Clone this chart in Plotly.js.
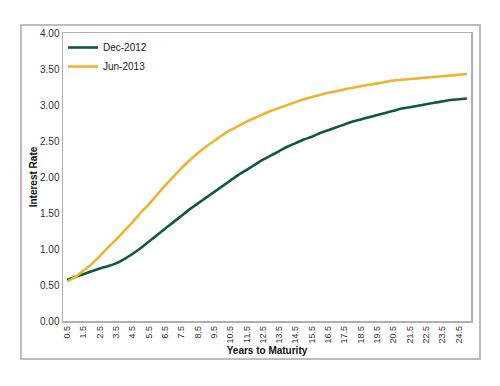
<!DOCTYPE html>
<html>
<head>
<meta charset="utf-8">
<script src="https://cdn.plot.ly/plotly-3.0.1.min.js"></script>
<style>
html,body{margin:0;padding:0;background:#fff;}
#chart{width:500px;height:386px;}
</style>
</head>
<body>
<div id="chart"></div>
<script>
var years = [0.5,1.0,1.5,2.0,2.5,3.0,3.5,4.0,4.5,5.0,5.5,6.0,6.5,7.0,7.5,8.0,8.5,9.0,9.5,10.0,
  10.5,11.0,11.5,12.0,12.5,13.0,13.5,14.0,14.5,15.0,15.5,16.0,16.5,17.0,17.5,18.0,18.5,19.0,19.5,20.0,
  20.5,21.0,21.5,22.0,22.5,23.0,23.5,24.0,24.5,25.0];
var dec2012 = [0.57,0.61,0.65,0.69,0.73,0.76,0.80,0.86,0.93,1.01,1.10,1.19,1.28,1.37,1.46,1.55,1.63,1.71,1.79,1.87,
  1.95,2.03,2.10,2.17,2.24,2.30,2.36,2.42,2.47,2.52,2.56,2.61,2.65,2.69,2.73,2.77,2.80,2.83,2.86,2.89,
  2.92,2.95,2.97,2.99,3.01,3.03,3.05,3.07,3.08,3.09];
var jun2013 = [0.55,0.61,0.70,0.79,0.90,1.02,1.13,1.25,1.37,1.50,1.62,1.75,1.88,2.00,2.12,2.23,2.33,2.42,2.50,2.58,
  2.65,2.71,2.77,2.82,2.87,2.92,2.96,3.00,3.04,3.08,3.11,3.14,3.17,3.19,3.22,3.24,3.26,3.28,3.30,3.32,
  3.34,3.35,3.36,3.37,3.38,3.39,3.40,3.41,3.42,3.43];
var tickLabels = ["0.5","1.5","2.5","3.5","4.5","5.5","6.5","7.5","8.5","9.5","10.5","11.5","12.5",
  "13.5","14.5","15.5","16.5","17.5","18.5","19.5","20.5","21.5","22.5","23.5","24.5"];
var tickVals = tickLabels.map(Number);
var yTicks = [0,0.5,1,1.5,2,2.5,3,3.5,4];

var font = "Arial, 'Liberation Sans', sans-serif";
var traces = [
  {x: years, y: dec2012, name: "Dec-2012", type: "scatter", mode: "lines",
   line: {color: "#0f5a3a", width: 2.6, shape: "spline", smoothing: 0.8}},
  {x: years, y: jun2013, name: "Jun-2013", type: "scatter", mode: "lines",
   line: {color: "#ebb530", width: 2.6, shape: "spline", smoothing: 0.8}}
];
var layout = {
  width: 500, height: 386,
  margin: {l: 63, r: 29, t: 33, b: 65},
  paper_bgcolor: "#fff", plot_bgcolor: "#fff",
  font: {family: font, size: 10, color: "#333"},
  showlegend: true,
  legend: {x: 0.0, y: 1.0, xanchor: "left", yanchor: "top", bgcolor: "rgba(0,0,0,0)",
           font: {family: font, size: 10, color: "#222"}, tracegroupgap: 0, itemwidth: 30},
  xaxis: {
    range: [0.25, 25.25], tickmode: "array", tickvals: tickVals, ticktext: tickLabels,
    tickangle: -90, showgrid: false, zeroline: false,
    showline: true, mirror: true, linecolor: "#b0b0b0", linewidth: 1.5,
    ticks: "", tickfont: {family: font, size: 9, color: "#333"},
    title: {text: "<b>Years to Maturity</b>", font: {family: font, size: 10, color: "#111"}, standoff: 4}
  },
  yaxis: {
    range: [0, 4], tickmode: "array", tickvals: yTicks, tickformat: ".2f",
    showgrid: false, zeroline: false,
    showline: true, mirror: true, linecolor: "#b0b0b0", linewidth: 1.5,
    ticks: "", ticklen: 0, tickfont: {family: font, size: 10, color: "#333"},
    title: {text: "<b>Interest Rate</b>", font: {family: font, size: 10, color: "#111"}, standoff: 0}
  },
  shapes: [
    {type: "rect", xref: "paper", yref: "paper",
     x0: -42/408, x1: 417/408, y0: -38/288, y1: 296/288,
     line: {color: "#bdbdbd", width: 2}, fillcolor: "rgba(0,0,0,0)", layer: "above"}
  ]
};
Plotly.newPlot("chart", traces, layout, {displayModeBar: false, staticPlot: true});
</script>
</body>
</html>
